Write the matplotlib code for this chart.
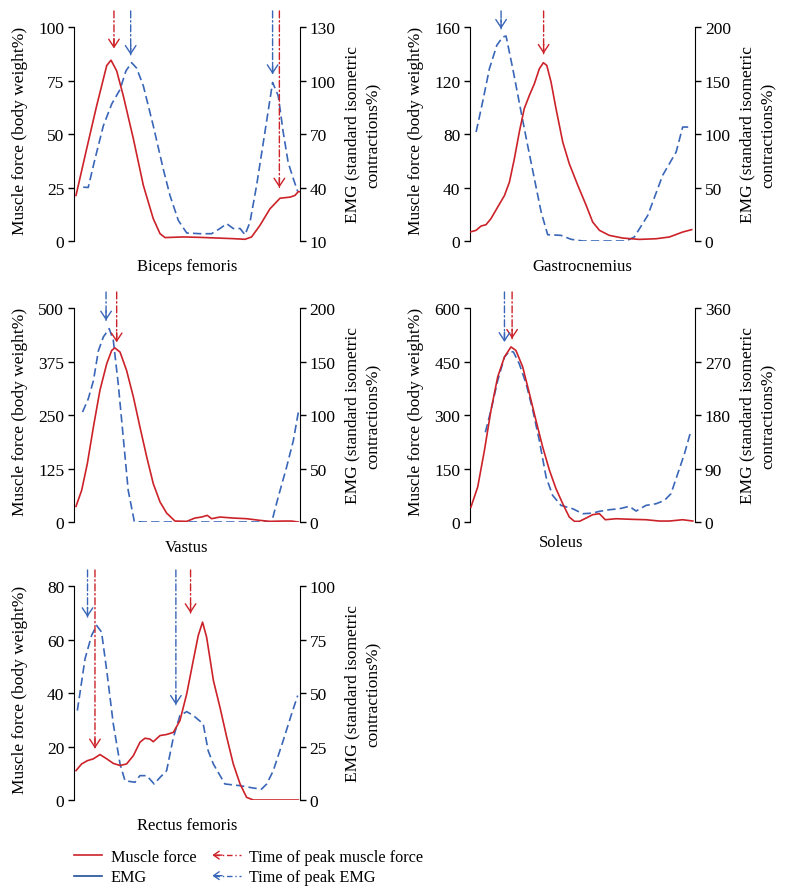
import matplotlib.pyplot as plt
from matplotlib.lines import Line2D
from matplotlib.patches import FancyArrowPatch
from matplotlib.legend_handler import HandlerBase

plt.rcParams['font.family'] = ['Liberation Serif', 'DejaVu Serif']
plt.rcParams['font.size'] = 11.5

RED = '#cc2229'
BLUE = '#3a66b8'
LEG_BLUE = '#1f4e9a'

# x values are % of the gait cycle
# ---- Biceps femoris
bf_fx = [0.9, 5.6, 10.0, 14.5, 16.4, 18.9, 21.8, 26.3, 30.7, 35.1, 38.1, 40.3, 48.4, 55.8,
         63.1, 70.5, 75.7, 78.6, 82.3, 86.7, 91.2, 95.6, 97.8, 99.3, 100]
bf_fy = [21.3, 43, 63, 82, 84.5, 79.5, 68, 47.7, 26, 10.4, 3.4, 1.6, 1.9, 1.7,
         1.4, 1.1, 0.8, 1.9, 7.3, 15, 20, 20.5, 21.3, 23.1, 23]
bf_ex = [4.1, 6.3, 9.3, 13.0, 16.7, 20.4, 23.0, 25.5, 27.7, 30.7, 35.1, 39.5, 42.5, 46.2,
         49.9, 55.8, 60.9, 64.6, 67.6, 70.5, 73.5, 75.7, 77.9, 80.8, 84.5, 87.9, 90.4,
         92.6, 94.8, 97.1, 99.0]
bf_ey = [40.2, 40, 56, 74.6, 86.8, 95, 105.4, 110, 107, 97, 74.6, 50.4, 35.5, 21.5,
         14.5, 14.1, 14.1, 17, 19.7, 17, 17, 13.5, 20.6, 41, 71, 98.9, 91.4,
         71, 54, 44.8, 37.8]
bf_peak_force = [(17.7, 90), (90.9, 25)]
bf_peak_emg = [(25.1, 87), (87.9, 78)]

# ---- Gastrocnemius
ga_fx = [0, 2.7, 4.9, 7.1, 9.3, 12.3, 15.3, 17.5, 19.7, 21.9, 24.1, 26.4, 28.6, 30.8,
         32.6, 34.1, 36.0, 38.2, 41.2, 44.1, 47.9, 51.6, 54.5, 57.5, 61.9, 67.9, 75.3,
         82.7, 88.6, 94.5, 98.5]
ga_fy = [6.7, 8, 11.2, 12.2, 16.7, 25.4, 34, 44, 61.5, 81.5, 99, 109, 117.6, 128.8,
         133.3, 131.3, 118.9, 99, 74, 57.8, 41.6, 26.7, 14.2, 8, 4.2, 2.2, 1.2,
         1.7, 3, 6.7, 8.5]
ga_ex = [2.7, 5.6, 8.6, 11.9, 14.5, 16.0, 19.0, 22.7, 25.6, 28.6, 31.6, 34.5, 40.4,
         44.9, 50.1, 69.3, 73.0, 79.0, 85.6, 91.6, 94.5, 97.5]
ga_ey = [101.9, 130, 161, 182.9, 190.6, 191.6, 161, 120.5, 89.4, 58.2, 27.1, 5.9, 5.3,
         1.6, 0, 0, 3.7, 24, 61.4, 83.2, 106.5, 106.5]
ga_peak_force = [(32.7, 140)]
ga_peak_emg = [(13.8, 158.7)]

# ---- Vastus
va_fx = [0.9, 3.4, 5.9, 8.6, 11.5, 14.5, 16.7, 18.1, 20.4, 23.3, 26.3, 29.2, 32.2, 35.1,
         38.1, 41.0, 44.7, 49.9, 53.5, 56.5, 59.0, 60.9, 64.6, 70.5, 76.4, 82.3, 86.7,
         92.6, 96.3, 99.3]
va_fy = [36.6, 74, 136, 222, 308, 370, 401, 407, 397, 354, 292, 222, 152, 89.6,
         46.7, 21, 2.3, 1.6, 9.3, 11.7, 15.6, 7.8, 11.7, 9.3, 7.8, 3.9, 1.6,
         2.3, 2.3, 0]
va_ex = [3.8, 6.3, 8.6, 10.8, 13.0, 15.6, 17.4, 19.6, 21.8, 24.0, 26.7, 30.7, 87.5,
         90.4, 94.1, 97.1, 99.3]
va_ey = [102.8, 115, 132, 160, 173, 180.7, 170, 129, 79.4, 29.6, 0.6, 0, 0,
         23.4, 51.4, 76.3, 102.8]
va_peak_force = [(18.9, 420)]
va_peak_emg = [(14.2, 471)]

# ---- Soleus
so_fx = [0.4, 3.4, 6.4, 9.3, 12.3, 15.3, 18.2, 20.4, 23.4, 26.4, 29.3, 32.3, 35.3, 38.2,
         41.2, 44.1, 46.4, 48.6, 51.6, 54.5, 57.5, 60.1, 64.9, 72.3, 78.2, 84.1, 88.6,
         94.5, 99.0]
so_fy = [42, 98, 201, 313, 407, 463, 491, 481, 435, 360, 285, 210, 145, 93.5,
         51.4, 14, 1.9, 1.9, 11.2, 20.6, 23.4, 6.5, 9.3, 7.5, 6.5, 2.8, 2.8,
         6.5, 2.8]
so_ex = [6.8, 9.3, 12.3, 15.3, 17.5, 19.3, 21.9, 24.9, 27.9, 30.8, 33.8, 36.7, 40.4,
         45.6, 50.1, 54.5, 57.5, 61.9, 66.4, 70.8, 73.8, 78.2, 82.7, 86.4, 89.3, 92.3,
         95.3, 98.2]
so_ey = [151, 188, 238, 277.5, 287.6, 286, 266, 233, 188, 137, 75.7, 44.9, 28,
         22.4, 14, 15, 18, 20.7, 22.4, 26.4, 18.5, 28, 30.8, 36.4, 47.7, 81.3,
         115, 154]
so_peak_force = [(18.7, 514)]
so_peak_emg = [(15.3, 505)]

# ---- Rectus femoris
rf_fx = [0.9, 3.4, 5.9, 8.6, 11.5, 14.5, 17.4, 20.4, 23.3, 26.3, 29.2, 31.4, 33.6, 35.1,
         38.1, 41.0, 44.0, 46.9, 49.9, 52.8, 55.0, 56.9, 58.7, 61.7, 64.6, 67.6, 70.5,
         73.5, 76.4, 79.4, 99.3]
rf_fy = [11, 13.5, 14.7, 15.4, 17, 15.4, 13.7, 12.9, 13.5, 16.6, 21.6, 23.1, 22.8, 21.8,
         24.1, 24.5, 25.3, 29.7, 39.7, 52.2, 61.5, 66.5, 60.9, 44.7, 34.7, 23.5, 13.5,
         6, 1, 0, 0]
rf_ex = [1.5, 4.9, 7.8, 10.0, 12.2, 14.5, 17.4, 20.4, 22.6, 27.0, 29.2, 32.2, 35.5,
         38.1, 41.0, 44.0, 46.9, 49.9, 52.8, 57.2, 59.4, 61.7, 66.8, 73.5, 79.4, 83.0,
         85.3, 88.2, 92.6, 96.3, 99.0]
rf_ey = [41.8, 66, 76.9, 81.6, 78.5, 60.5, 35.6, 16.8, 9, 8.3, 11.4, 11.4, 7.5,
         10.6, 13.7, 29.3, 39.5, 41.3, 39.5, 35.6, 23, 16.8, 7.5, 6.7, 5.6, 5.1,
         7.5, 13.7, 27.8, 40.2, 48.8]
rf_peak_force = [(9.3, 19.3), (51.6, 69.9)]
rf_peak_emg = [(6.0, 68.4), (45.1, 35.6)]

muscles = ['Biceps femoris', 'Gastrocnemius', 'Vastus', 'Soleus', 'Rectus femoris']
force_ticks = [[0, 25, 50, 75, 100], [0, 40, 80, 120, 160], [0, 125, 250, 375, 500],
               [0, 150, 300, 450, 600], [0, 20, 40, 60, 80]]
emg_ticks = [[10, 40, 70, 100, 130], [0, 50, 100, 150, 200], [0, 50, 100, 150, 200],
             [0, 90, 180, 270, 360], [0, 25, 50, 75, 100]]

panels = [
    (bf_fx, bf_fy, bf_ex, bf_ey, bf_peak_force, bf_peak_emg),
    (ga_fx, ga_fy, ga_ex, ga_ey, ga_peak_force, ga_peak_emg),
    (va_fx, va_fy, va_ex, va_ey, va_peak_force, va_peak_emg),
    (so_fx, so_fy, so_ex, so_ey, so_peak_force, so_peak_emg),
    (rf_fx, rf_fy, rf_ex, rf_ey, rf_peak_force, rf_peak_emg),
]

# axes rectangles in figure fraction
rects = [[0.0941, 0.7296, 0.2875, 0.2391], [0.598, 0.7296, 0.2863, 0.2391],
         [0.0941, 0.4156, 0.2875, 0.2391], [0.598, 0.4156, 0.2863, 0.2391],
         [0.0941, 0.1050, 0.2875, 0.2391]]
title_pos = [(0.5, -0.117), (0.5, -0.117), (0.5, -0.117), (0.405, -0.095), (0.5, -0.117)]

DASH = (0, (5, 2.5))
DASHDOT = (0, (5, 2, 1, 2))


def peak_arrow(ax, x, tip, color):
    ax.annotate('', xy=(x, tip), xytext=(x, 1.075), textcoords=('data', 'axes fraction'),
                arrowprops=dict(arrowstyle='-', linestyle=DASHDOT, color=color, lw=1.0,
                                shrinkA=0, shrinkB=0), annotation_clip=False)
    ax.annotate('', xy=(x, tip), xytext=(0, 7), textcoords='offset points',
                arrowprops=dict(arrowstyle='->,head_length=0.5,head_width=0.33', color=color,
                                lw=1.0, shrinkA=0, shrinkB=0), annotation_clip=False)


fig = plt.figure(figsize=(7.86, 8.95), dpi=100)

for i, (fx, fy, ex, ey, pf, pe) in enumerate(panels):
    ax = fig.add_axes(rects[i])
    ax2 = ax.twinx()
    ax.plot(fx, fy, color=RED, lw=1.2, zorder=3)
    ax2.plot(ex, ey, color=BLUE, lw=1.2, linestyle=DASH)
    ax.set_xlim(0, 100)
    ax.set_ylim(force_ticks[i][0], force_ticks[i][-1])
    ax2.set_ylim(emg_ticks[i][0], emg_ticks[i][-1])
    ax.set_yticks(force_ticks[i])
    ax2.set_yticks(emg_ticks[i])
    ax.set_xticks([])
    for a in (ax, ax2):
        for s in ('top', 'bottom'):
            a.spines[s].set_visible(False)
        a.tick_params(axis='y', length=4, width=1, labelsize=12.5, pad=3)
    ax.spines['right'].set_visible(False)
    ax2.spines['left'].set_visible(False)
    ax.set_ylabel('Muscle force (body weight%)', fontsize=12.5)
    ax.yaxis.set_label_coords(-0.205, 0.52)
    ax2.set_ylabel('EMG (standard isometric\ncontractions%)', fontsize=12.5, linespacing=1.5)
    ax2.yaxis.set_label_coords(1.195, 0.5)
    ax.text(title_pos[i][0], title_pos[i][1], muscles[i], transform=ax.transAxes,
            ha='center', va='center', fontsize=12)
    ax.set_zorder(ax2.get_zorder() + 1)
    ax.patch.set_visible(False)
    for x, tip in pf:
        peak_arrow(ax, x, tip, RED)
    for x, tip in pe:
        peak_arrow(ax, x, tip, BLUE)


class PeakHandler(HandlerBase):
    def create_artists(self, legend, orig_handle, xdescent, ydescent, width, height,
                       fontsize, trans):
        y = height / 2 - ydescent
        x0 = -xdescent
        c = orig_handle.get_color()
        shaft = Line2D([x0 + 1, x0 + width], [y, y], color=c, lw=1.0,
                       linestyle=(0, (4, 2, 1, 2)), transform=trans)
        head = FancyArrowPatch((x0 + 7, y), (x0, y), arrowstyle='->,head_length=4,head_width=2.8',
                               color=c, lw=1.0, shrinkA=0, shrinkB=0, transform=trans)
        return [shaft, head]


h_force = Line2D([], [], color=RED, lw=1.2)
h_emg = Line2D([], [], color=LEG_BLUE, lw=1.2)
h_pf = Line2D([], [], color=RED)
h_pe = Line2D([], [], color=BLUE)
fig.legend([h_force, h_emg, h_pf, h_pe],
           ['Muscle force', 'EMG', 'Time of peak muscle force', 'Time of peak EMG'],
           ncol=2, loc='upper left', bbox_to_anchor=(0.0941, 0.0505), frameon=False,
           borderpad=0, borderaxespad=0, handlelength=1.75, handletextpad=0.5,
           columnspacing=1.0, labelspacing=0.28, fontsize=11.7,
           handler_map={h_pf: PeakHandler(), h_pe: PeakHandler()})

fig.savefig('out.png', dpi=100)
